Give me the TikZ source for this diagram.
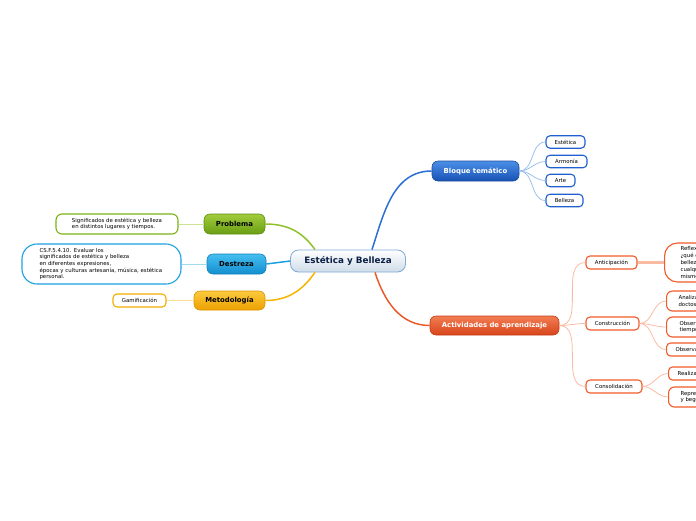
\documentclass[tikz,border=0pt]{standalone}
\usepackage{fontspec}
\setmainfont{DejaVu Sans}
\usetikzlibrary{shapes,arrows,positioning}

\definecolor{navy}{HTML}{0B1F45}
\definecolor{ctrline}{HTML}{7FA9D6}
\definecolor{ctrbot}{HTML}{CFDCE8}
\definecolor{bluetop}{HTML}{4B8FE8}
\definecolor{bluebot}{HTML}{1852B3}
\definecolor{bluedark}{HTML}{1A4C9E}
\definecolor{blueline}{HTML}{2A6FD6}
\definecolor{bluetwig}{HTML}{9CC0EE}
\definecolor{blueleaf}{HTML}{1F5FD0}
\definecolor{redtop}{HTML}{F27D52}
\definecolor{redbot}{HTML}{D8441B}
\definecolor{reddark}{HTML}{C23C16}
\definecolor{redline}{HTML}{EA5A2C}
\definecolor{redtwig}{HTML}{FBBBA3}
\definecolor{redleaf}{HTML}{F25A27}
\definecolor{greentop}{HTML}{A2CC3C}
\definecolor{greenbot}{HTML}{6A9E14}
\definecolor{greendark}{HTML}{5F8E12}
\definecolor{greenline}{HTML}{8EC12A}
\definecolor{greentwig}{HTML}{CBE393}
\definecolor{greenleaf}{HTML}{7AB317}
\definecolor{cyantop}{HTML}{45BEF0}
\definecolor{cyanbot}{HTML}{138FCF}
\definecolor{cyandark}{HTML}{1280BA}
\definecolor{cyanline}{HTML}{1BA1E2}
\definecolor{cyantwig}{HTML}{A3D8F3}
\definecolor{cyanleaf}{HTML}{1BA1E2}
\definecolor{yellowtop}{HTML}{FCCB3E}
\definecolor{yellowbot}{HTML}{ECA000}
\definecolor{yellowdark}{HTML}{D99400}
\definecolor{yellowline}{HTML}{F5B400}
\definecolor{yellowtwig}{HTML}{FBE09C}
\definecolor{yellowleaf}{HTML}{F2AD00}

\begin{document}
\begin{tikzpicture}[
    x=1pt, y=-1pt,
    topic/.style={rectangle, rounded corners=6pt, draw=#1dark, line width=0.6pt,
        top color=#1top, bottom color=#1bot, minimum height=20pt,
        font=\fontsize{6.9}{7.5}\selectfont\bfseries},
    leaf/.style={rectangle, rounded corners=4pt, draw=#1, line width=1.1pt,
        fill=white, minimum height=13pt, align=left,
        font=\fontsize{5.4}{6.6}\selectfont},
    branch/.style={draw=#1, line width=1.5pt},
    twig/.style={draw=#1, line width=0.8pt}
]
    \useasboundingbox (0,0) rectangle (696,520);
    \clip (0,0) rectangle (696,520);

    % Central topic
    \node[rectangle, rounded corners=8pt, draw=ctrline, line width=0.8pt,
        top color=white, bottom color=ctrbot, minimum width=115pt, minimum height=22pt,
        font=\fontsize{8.8}{9.5}\selectfont\bfseries, text=navy] (ctr) at (348,261) {Estética y Belleza};

    % Main topics
    \node[topic=blue, text=white, minimum width=87pt] (bloque) at (475.5,171) {Bloque temático};
    \node[topic=red, text=white, minimum width=129pt, minimum height=19pt] (activ) at (494.5,325.5) {Actividades de aprendizaje};
    \node[topic=green, minimum width=61pt] (problema) at (234.5,224) {Problema};
    \node[topic=cyan, minimum width=59pt] (destreza) at (236.5,264) {Destreza};
    \node[topic=yellow, minimum width=71pt, minimum height=19pt] (metodo) at (229.5,300.5) {Metodología};

    % Bloque tematico
    \node[leaf=blueleaf, minimum width=39pt, minimum height=12.5pt] (estetica) at (565.5,142) {Estética};
    \node[leaf=blueleaf, minimum width=41pt, minimum height=12.5pt] (armonia) at (566.5,161.5) {Armonía};
    \node[leaf=blueleaf, minimum width=29pt, minimum height=12.5pt] (arte) at (560.5,180.5) {Arte};
    \node[leaf=blueleaf, minimum width=37pt, minimum height=12.5pt] (belleza) at (564.5,200.5) {Belleza};

    % Actividades
    \node[leaf=redleaf, minimum width=51pt] (anticip) at (611.5,262.5) {Anticipación};
    \node[leaf=redleaf, minimum width=53pt] (constr) at (612.5,323.5) {Construcción};
    \node[leaf=redleaf, minimum width=56pt] (consol) at (614,386.5) {Consolidación};

    \node[leaf=redleaf, anchor=west, rounded corners=13pt, minimum width=90pt, minimum height=39pt,
        inner xsep=16pt, text width=58pt, font=\fontsize{5.4}{7}\selectfont] (reflex) at (664,262.5)
        {Reflexión\\¿qué es\\belleza?\\cualquier\\mismo};
    \node[leaf=redleaf, anchor=west, rounded corners=6pt, minimum width=90pt, minimum height=20pt,
        inner xsep=12pt, text width=66pt] (analiz) at (666,301) {Analizar\\doctos};
    \node[leaf=redleaf, anchor=west, rounded corners=6pt, minimum width=90pt, minimum height=20pt,
        inner xsep=13pt, text width=64pt] (observ) at (666,327) {Observar\\tiempo};
    \node[leaf=redleaf, anchor=west, minimum width=90pt,
        inner xsep=9pt, text width=72pt] (observa) at (666,349.5) {Observar};
    \node[leaf=redleaf, anchor=west, minimum width=90pt,
        inner xsep=9pt, text width=72pt] (realiza) at (668,373.5) {Realizar};
    \node[leaf=redleaf, anchor=west, rounded corners=6pt, minimum width=90pt, minimum height=20pt,
        inner xsep=12pt, text width=66pt] (repres) at (668,397) {Representar\\y bego};

    % Left side
    \node[leaf=greenleaf, rounded corners=6pt, minimum width=122pt, minimum height=20pt] (signif) at (117,224)
        {Significados de estética y belleza\\en distintos lugares y tiempos.};
    \node[leaf=cyanleaf, rounded corners=15pt, minimum width=159pt, minimum height=40pt, text width=124pt] (cs) at (101.5,264)
        {CS.F.5.4.10. Evaluar los\\significados de estética y belleza\\en diferentes expresiones,\\épocas y culturas artesanía, música, estética\\personal.};
    \node[leaf=yellowleaf, minimum width=53pt] (gamif) at (139.5,300.5) {Gamificación};

    % Branches
    \draw[branch=blueline] ([xshift=24pt]ctr.north) to[out=72,in=180] (bloque.west);
    \draw[branch=redline] ([xshift=27pt]ctr.south) to[out=-72,in=180] (activ.west);
    \draw[branch=greenline] (problema.east) to[out=0,in=125] ([xshift=-33pt]ctr.north);
    \draw[branch=cyanline] (destreza.east) -- (ctr.west);
    \draw[branch=yellowline] (metodo.east) to[out=0,in=-125] ([xshift=-33pt]ctr.south);

    % Twigs
    \foreach \n in {estetica,armonia,arte,belleza}
        \draw[twig=bluetwig] (bloque.east) to[out=0,in=180] (\n.west);
    \foreach \n in {anticip,constr,consol}
        \draw[twig=redtwig] (activ.east) to[out=0,in=180] (\n.west);
    \draw[draw=redtwig, line width=2.5pt] (anticip.east) -- (reflex.west);
    \foreach \n in {analiz,observ,observa}
        \draw[twig=redtwig] (constr.east) to[out=0,in=180] (\n.west);
    \foreach \n in {realiza,repres}
        \draw[twig=redtwig] (consol.east) to[out=0,in=180] (\n.west);
    \draw[twig=greentwig] (problema.west) -- (signif.east);
    \draw[twig=cyantwig] (destreza.west) -- (cs.east);
    \draw[twig=yellowtwig] (metodo.west) -- (gamif.east);
\end{tikzpicture}
\end{document}
